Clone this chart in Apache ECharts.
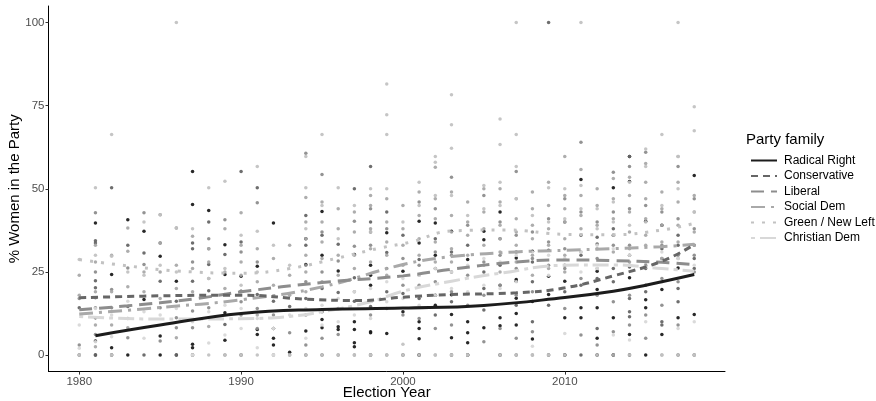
<!DOCTYPE html>
<html>
<head>
<meta charset="utf-8">
<script src="https://cdn.jsdelivr.net/npm/echarts@6/dist/echarts.min.js"></script>
<style>
html,body{margin:0;padding:0;background:#fff;}
#chart{width:876px;height:401px;}
</style>
</head>
<body>
<div id="chart"></div>
<script>
// ---------- data ----------
const families = ["Radical Right","Conservative","Liberal","Social Dem","Green / New Left","Christian Dem"];
const xTicks = [1980,1990,2000,2010];
const yTicks = [0,25,50,75,100];

// observed party values: [year, [values...]]
const ptsRadicalRight = [
 [1981,[39.7,11.2,4.2,0]],[1982,[2.2,24.2]],[1983,[40.7,0]],[1984,[37.2,16.7]],[1985,[5.7,0,29.7]],
 [1986,[0,22.2]],[1987,[55.2,45.3,3.2,2.2,0]],[1988,[43.5]],[1989,[33.2,24.2,12.7,4.4]],[1990,[23.7,19.2]],
 [1991,[26.7,7.7,6.2]],[1992,[39.7,8,5,3]],[1993,[0.8]],[1994,[27.2,7.2,35]],[1995,[43.2,10.7,30,8.2]],
 [1996,[25.3,8.5,7.7]],[1997,[30.2,10,7.7,3.7,2.5]],[1998,[27,24,21,7,6.7]],[1999,[36.8,6.5]],[2000,[25.2,13]],
 [2001,[40.2,33.7,10,8,4.9,0]],[2002,[39.7,30,18,15]],[2003,[37.2,18.1,12.2,5.2]],[2004,[28.7,10,6.7,3.7,0]],
 [2005,[37.2,34.7,8.2]],[2006,[43,11.2,8.8,0]],[2007,[29.2,22.7,22.2,17.1,12.5,9]],[2008,[31.2,16.1,4.8]],
 [2009,[23.7,18.2]],[2010,[22.2,11.2,0]],[2011,[14.2,11.2,52.8]],[2012,[25.2,19.7,14.2,5,0]],[2013,[50.3,11.2,0]],
 [2014,[23.2,6.2,0,59.7,52.2]],[2015,[40.2,16.6,14.2,0]],[2016,[39,19.7,6.2]],[2017,[26.2,11.2]],[2018,[54,12.2]]
];
const ptsConservative = [
 [1980,[14.2,0]],[1981,[34.4,33.7,22.3,20.2,0]],[1982,[50.3,0]],[1983,[33,14.6]],[1984,[30.7,0]],[1985,[22.2,33.7]],
 [1986,[16.2,0]],[1987,[33.7,32,22.2]],[1988,[40,27.2,19.3]],[1989,[30.2,9.2]],[1990,[55.2,34,0]],[1991,[50.3,18.2]],
 [1992,[16.2]],[1993,[14.6]],[1994,[33,42,17,0]],[1995,[36,20,13,0]],[1996,[33.3,18.8]],[1997,[50,23.2,16.2]],
 [1998,[56.7,40,37,14.6,0]],[1999,[43,30.8,19]],[2000,[36,18.5,0]],[2001,[28.7,17,0]],[2002,[35,26,12]],
 [2003,[31,25,16,0]],[2004,[33,18.5,0]],[2005,[25,20,13.5]],[2006,[35,27,21]],[2007,[31,15,0]],[2008,[28,22,10]],
 [2009,[100,31.5,15,0]],[2010,[40,27,19,0]],[2011,[36,30,21,0]],[2012,[35.4,33.4,23,8]],[2013,[38,36,26,22,0]],
 [2014,[59.7,30,26.5,17,13,11.5]],[2015,[28,26,21,19]],[2016,[32,29,10,9]],[2017,[36,33,20,16,0]],[2018,[33,29,26,0]]
];
const ptsLiberal = [
 [1980,[17,3]],[1981,[42.8,25,17.2,14.2,6.2]],[1982,[19.7,14.2,0]],[1983,[26.2,11,5.2]],[1984,[27.2,42.8]],
 [1985,[14.2,4.2,42.2]],[1986,[11.2,38.2,8.2]],[1987,[28,13.2,8.2]],[1988,[35,32,14.2]],[1989,[40.7,18.2,0]],
 [1990,[31,16,12]],[1991,[45.8,28,14,8]],[1992,[12,0]],[1993,[6.7,0]],[1994,[60.7,27,22,12,3]],[1995,[54.3,37,25,5]],
 [1996,[28.3,14,6.2,0]],[1997,[40.2,32.7,19,0]],[1998,[44,33,12,0]],[1999,[38,26,14,0]],[2000,[29,21,12]],
 [2001,[46,27,21,11]],[2002,[44,31,22,8]],[2003,[53.5,30,19,9,0]],[2004,[39,24,15]],[2005,[48,28,18,4]],
 [2006,[40,30,21,8]],[2007,[55.2,36,26,18,5]],[2008,[37,29,19,7,0]],[2009,[41,34,27,0]],[2010,[47,32,26,14]],
 [2011,[64,43,23,6]],[2012,[40,29,18,3]],[2013,[55,43,33,16,7]],[2014,[56.7,44,33,27,18,9]],[2015,[61,45,27,12,5]],
 [2016,[43,33,23,15]],[2017,[56.7,41,30,22,9]],[2018,[47,38,30,25]]
];
const ptsSocialDem = [
 [1980,[24,18,0]],[1981,[33,28,19,9,2.5]],[1982,[30,19,9]],[1983,[38.2,31.2,20.5,8.2]],[1984,[25,19]],
 [1985,[33.7,25,17]],[1986,[27,20,5.2]],[1987,[35.7,26,19]],[1988,[32,28,23,8.6]],[1989,[38,25,20]],
 [1990,[42.8,33,28,24,19,0]],[1991,[32,22,12]],[1992,[29,21,8]],[1993,[33,24,18]],[1994,[40,47.4,35,30,25,19]],
 [1995,[46,40,34,29,22]],[1996,[44,38,30,24]],[1997,[43,37,30,26]],[1998,[48,45,38,32,28,0]],[1999,[47,40,34,30,24]],
 [2000,[45,38,33,27,0]],[2001,[49,42,35,30,24]],[2002,[56.5,47,41,34,28,0]],[2003,[49,42,37,32,28]],
 [2004,[46,40,36,30,0]],[2005,[50,43,38,33,27]],[2006,[50,46,39,35,31,25,0]],[2007,[47,41,37,33,28]],
 [2008,[49,44,39,35,30,24]],[2009,[52,45,38,33,26]],[2010,[59.7,48,44,40,35,30,25]],[2011,[55.8,48,42,38,31]],
 [2012,[50,45,39,32,26]],[2013,[53.1,47,41,36,31,0]],[2014,[53.5,48,43,37,32,28]],[2015,[57.6,52,47,41,36,33]],
 [2016,[49,44,39,34,29,0]],[2017,[59.7,52,46,39,34,29]],[2018,[48,43,37,33,0]]
];
const ptsGreen = [
 [1980,[28.7,0]],[1981,[50.3,30]],[1982,[66.3,29.7,0]],[1983,[25]],[1984,[40,24]],[1985,[42.2,27]],
 [1986,[100,38.2,25]],[1987,[38,0]],[1988,[50.3,23,0]],[1989,[52.3,26,0]],[1990,[36,21,0]],[1991,[56.7,37.2,25,0]],
 [1992,[33,0]],[1993,[27,0]],[1994,[59.7,50.3,38,0]],[1995,[66.3,45,0]],[1996,[50.3,35,0]],[1997,[45,0]],
 [1998,[50,37,0]],[1999,[81.5,72.3,66.3,50,0]],[2000,[40,3.2,0]],[2001,[52,45,0]],[2002,[59.7,58,48,0]],
 [2003,[78.3,69.3,62.2,48,0]],[2004,[42,0]],[2005,[51,44]],[2006,[71,63.3,52,45,0]],[2007,[100,66.3,56.7,47,0]],
 [2008,[42,0]],[2009,[50.3,40,0]],[2010,[50,41,0]],[2011,[100,51,44]],[2012,[44,38,0]],[2013,[46,40]],
 [2014,[52,39,0]],[2015,[62,56.7,40]],[2016,[66.3,45,0]],[2017,[100,59.7,50,0]],[2018,[74.7,67.5,43,0]]
];
const ptsChristianDem = [
 [1980,[9,2]],[1981,[14,4]],[1982,[12,5.5]],[1983,[16.2]],[1984,[13,5]],[1985,[12]],[1986,[14]],[1987,[10,0]],
 [1988,[13,3.6]],[1989,[15,6]],[1990,[14,8]],[1991,[11,2.2]],[1992,[8,0]],[1993,[12]],[1994,[14,5]],[1995,[15,9]],
 [1996,[17,10]],[1997,[19,12]],[1998,[20,11]],[1999,[22,16]],[2000,[23,17]],[2001,[24,15]],[2002,[26,18]],
 [2003,[25,20]],[2004,[27,19]],[2005,[29,21]],[2006,[28,20]],[2007,[30,22]],[2008,[31,2.6]],[2009,[30,24]],
 [2010,[29,6.5]],[2011,[31,25]],[2012,[33,26]],[2013,[32,6]],[2014,[30,4.5]],[2015,[28,10]],[2016,[31,22]],
 [2017,[29,8]],[2018,[27,10]]
];

// smoothed trend per family: [year, value]
const trendRadicalRight = [[1981,5.8],[1985,9.0],[1990,12.5],[1995,13.7],[2000,14.1],[2005,14.9],[2010,17.3],[2013,19.2],[2015,21.0],[2018,24.2]];
const trendConservative = [[1980,17.2],[1985,17.8],[1990,18.0],[1994,16.8],[1997.5,16.4],[2000,17.4],[2003,18.2],[2007,18.7],[2010,20.2],[2013,23.8],[2016,28.2],[2018,33.2]];
const trendLiberal = [[1980,13.6],[1983,14.8],[1987,16.8],[1990,19.0],[1995,21.8],[2000,23.8],[2003,25.8],[2007,28.0],[2010,28.6],[2013,28.4],[2016,27.9],[2018,27.2]];
const trendSocialDem = [[1980,12.3],[1985,14.3],[1990,16.6],[1995,20.5],[2000,27.2],[2003,29.6],[2007,31.0],[2010,31.5],[2013,32.0],[2016,32.6],[2018,33.3]];
const trendGreen = [[1980,28.7],[1983,26.8],[1986,25.3],[1990,24.6],[1993,26.0],[1996,29.2],[1998.6,32.2],[2000.5,34.0],[2003,37.3],[2006.5,37.6],[2010,36.3],[2013,36.2],[2016,37.6],[2018,39.6]];
const trendChristianDem = [[1980,11.6],[1985,10.8],[1990,10.9],[1993,11.6],[1995,13.0],[1998,16.0],[2000,19.2],[2003,22.2],[2006,24.6],[2010,27.0],[2013,27.1],[2016,26.0],[2018,25.2]];

// ---------- build ----------
const colors = ["#1c1c1c","#666666","#8d8d8d","#a9a9a9","#c2c2c2","#d8d8d8"];
const dashes = ["solid",[7,5],[13,7],[14,6,3,6],[3,8],[4,5,16,5]];
const ptsAll = [ptsRadicalRight,ptsConservative,ptsLiberal,ptsSocialDem,ptsGreen,ptsChristianDem];
const trendAll = [trendRadicalRight,trendConservative,trendLiberal,trendSocialDem,trendGreen,trendChristianDem];
const flat = arr => arr.flatMap(([yr,vs]) => vs.map(v => [yr,v]));

const series = [];
families.forEach((f,i) => {
  series.push({
    name: f + " (obs)", type: "scatter", data: flat(ptsAll[i]),
    symbolSize: 3.5, itemStyle: {color: colors[i], opacity: 0.95}, z: 2, silent: true
  });
});
for (let i = families.length - 1; i >= 0; i--) {
  series.push({
    name: families[i], type: "line", data: trendAll[i], smooth: 0.45,
    symbol: "none", showSymbol: false,
    lineStyle: {color: colors[i], width: 3, type: dashes[i]}, itemStyle: {color: colors[i]}, z: 5
  });
}

const FONT = "Liberation Sans, Arial, sans-serif";
const chart = echarts.init(document.getElementById("chart"), null, {renderer: "canvas"});
chart.setOption({
  animation: false,
  textStyle: {fontFamily: FONT},
  grid: {left: 48.5, top: 6, width: 676.5, height: 365.6, containLabel: false, outerBoundsMode: "none"},
  title: {
    text: "Party family", left: 741, top: 127,
    textStyle: {fontSize: 15, fontWeight: "normal", color: "#000", fontFamily: FONT}
  },
  legend: {
    data: families, orient: "vertical", left: 745, top: 149.5,
    itemWidth: 26, itemHeight: 14, itemGap: 3.5,
    itemStyle: {opacity: 0},
    textStyle: {fontSize: 12, color: "#000", fontFamily: FONT, padding: [0,0,0,2]}
  },
  xAxis: {
    type: "value", min: 1978.1, max: 2019.9,
    name: "Election Year", nameLocation: "middle", nameGap: 14, nameMoveOverlap: false,
    nameTextStyle: {fontSize: 15, color: "#000", fontFamily: FONT},
    axisLine: {show: true, onZero: false, lineStyle: {color: "#000", width: 1}},
    axisTick: {show: true, length: 3, lineStyle: {color: "#333"}, customValues: xTicks},
    axisLabel: {fontSize: 11.5, color: "#4d4d4d", margin: 4, customValues: xTicks, formatter: v => String(v)},
    splitLine: {show: false}
  },
  yAxis: {
    type: "value", min: -5, max: 105,
    name: "% Women in the Party", nameLocation: "middle", nameGap: 26, nameRotate: 90, nameMoveOverlap: false,
    nameTextStyle: {fontSize: 15, color: "#000", fontFamily: FONT},
    axisLine: {show: true, onZero: false, lineStyle: {color: "#000", width: 1}},
    axisTick: {show: true, length: 3, lineStyle: {color: "#333"}, customValues: yTicks},
    axisLabel: {fontSize: 11.5, color: "#4d4d4d", margin: 4, customValues: yTicks, formatter: v => String(v)},
    splitLine: {show: false}
  },
  series: series
});
</script>
</body>
</html>
